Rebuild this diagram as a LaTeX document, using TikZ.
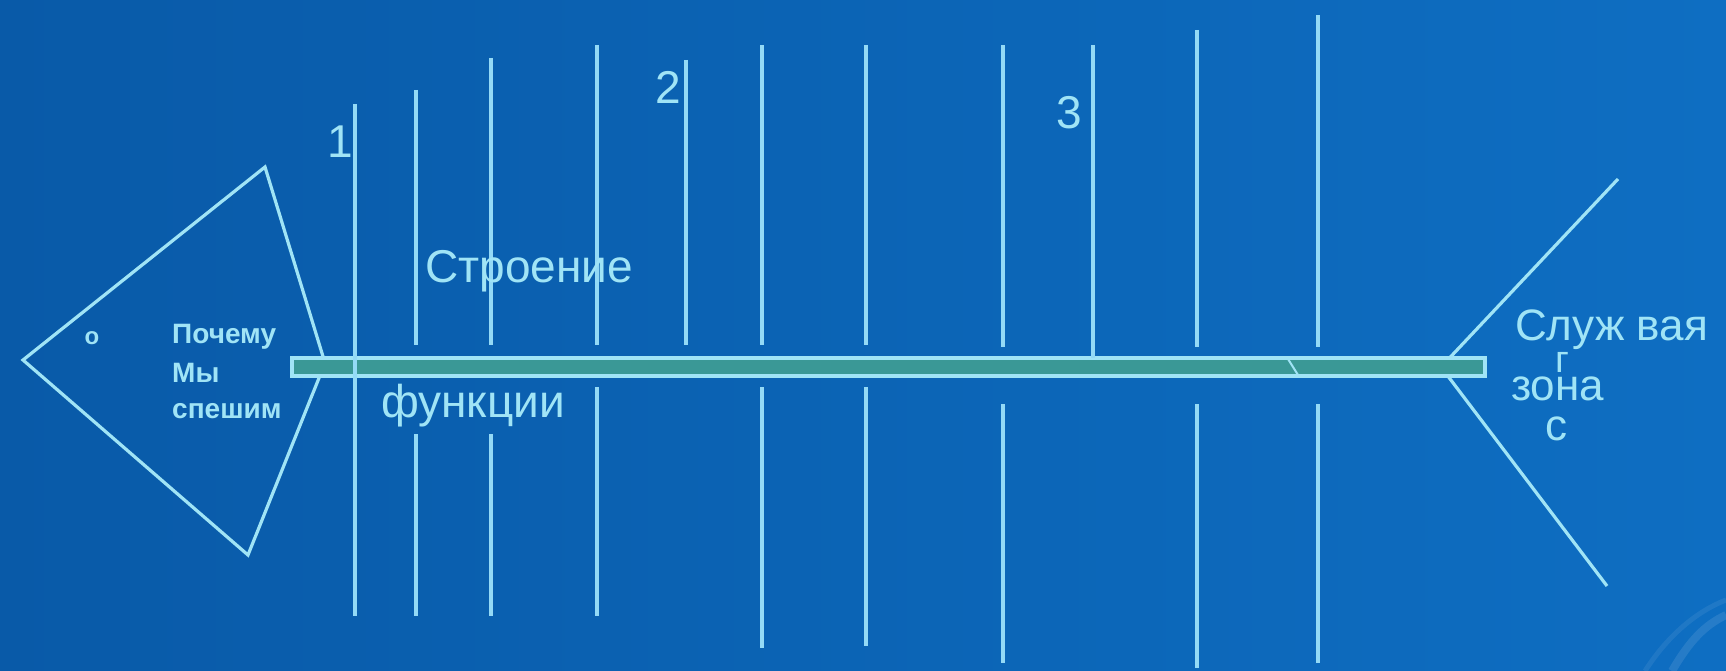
\documentclass[tikz,border=0pt]{standalone}
\usepackage{fontspec}
\setmainfont{Liberation Sans}
\definecolor{bgA}{RGB}{9,90,168}
\definecolor{bgB}{RGB}{14,110,194}
\definecolor{lc}{RGB}{160,228,246}
\definecolor{ribc}{RGB}{148,218,246}
\definecolor{spinefill}{RGB}{58,152,150}
\tikzset{
  rib/.style={draw=ribc, line width=4pt},
  outl/.style={draw=lc, line width=3.2pt, line join=miter},
  lbl/.style={inner sep=0pt, anchor=base west, text=lc, font=\fontsize{46}{50}\selectfont},
  tlbl/.style={inner sep=0pt, anchor=base west, text=lc, font=\fontsize{44}{48}\selectfont},
  headlbl/.style={inner sep=0pt, anchor=base west, text=lc, font=\bfseries\fontsize{28}{30}\selectfont},
}
\begin{document}
\begin{tikzpicture}[x=1pt,y=-1pt]
\useasboundingbox (0,0) rectangle (1726,671);
\shade[left color=bgA, right color=bgB] (0,0) rectangle (1726,671);
% faint swoosh bottom right
\draw[white, opacity=0.10, line width=8pt] (1672,671) .. controls (1690,640) and (1705,625) .. (1726,615);
\draw[white, opacity=0.07, line width=5pt] (1645,671) .. controls (1670,632) and (1700,610) .. (1726,600);

% head
\coordinate (hl) at (23,360);
\coordinate (ht) at (265,167);
\coordinate (hr) at (325,363);
\coordinate (hb) at (248,555);
\draw[outl] (hl) -- (ht) -- (hr) -- (hb) -- cycle;

% tail
\coordinate (tj) at (1441,367);
\coordinate (tu) at (1618,179);
\coordinate (td) at (1607,586);
\draw[outl] (tj) -- (tu);
\draw[outl] (tj) -- (td);

% spine
\draw[outl, fill=spinefill, line width=3.5pt] (292,358) rectangle (1485,376);
\draw[draw=lc, line width=2pt] (1288,359) -- (1298,375);

% ribs
\draw[rib] (355,104) -- (355,616);
\draw[rib] (416,90) -- (416,345);   \draw[rib] (416,434) -- (416,616);
\draw[rib] (491,58) -- (491,345);   \draw[rib] (491,434) -- (491,616);
\draw[rib] (597,45) -- (597,345);   \draw[rib] (597,387) -- (597,616);
\draw[rib] (686,60) -- (686,345);
\draw[rib] (762,45) -- (762,345);   \draw[rib] (762,387) -- (762,648);
\draw[rib] (866,45) -- (866,345);   \draw[rib] (866,387) -- (866,646);
\draw[rib] (1003,45) -- (1003,347); \draw[rib] (1003,404) -- (1003,663);
\draw[rib] (1093,45) -- (1093,358);
\draw[rib] (1197,30) -- (1197,347); \draw[rib] (1197,404) -- (1197,668);
\draw[rib] (1318,15) -- (1318,347); \draw[rib] (1318,404) -- (1318,663);

% labels
\node[lbl] (n1) at (327,158) {1};
\node[lbl] (n2) at (655,104) {2};
\node[lbl] (n3) at (1056,129) {3};
\node[lbl] (str) at (425,282) {Строение};
\node[lbl] (fun) at (381,417) {функции};
\node[tlbl] (sl) at (1515,340) {Служ вая};
\node[tlbl, font=\fontsize{38}{40}\selectfont] (gg) at (1555,372) {г};
\node[tlbl] (zon) at (1511,400) {зона};
\node[tlbl] (cc) at (1545,440) {с};

\node[headlbl] (p1) at (172,343) {Почему};
\node[headlbl] (p2) at (172,382) {Мы};
\node[headlbl] (p3) at (172,418) {спешим};
\node[headlbl, anchor=center, font=\bfseries\fontsize{24}{26}\selectfont] (o) at (92,338) {о};
\end{tikzpicture}
\end{document}
